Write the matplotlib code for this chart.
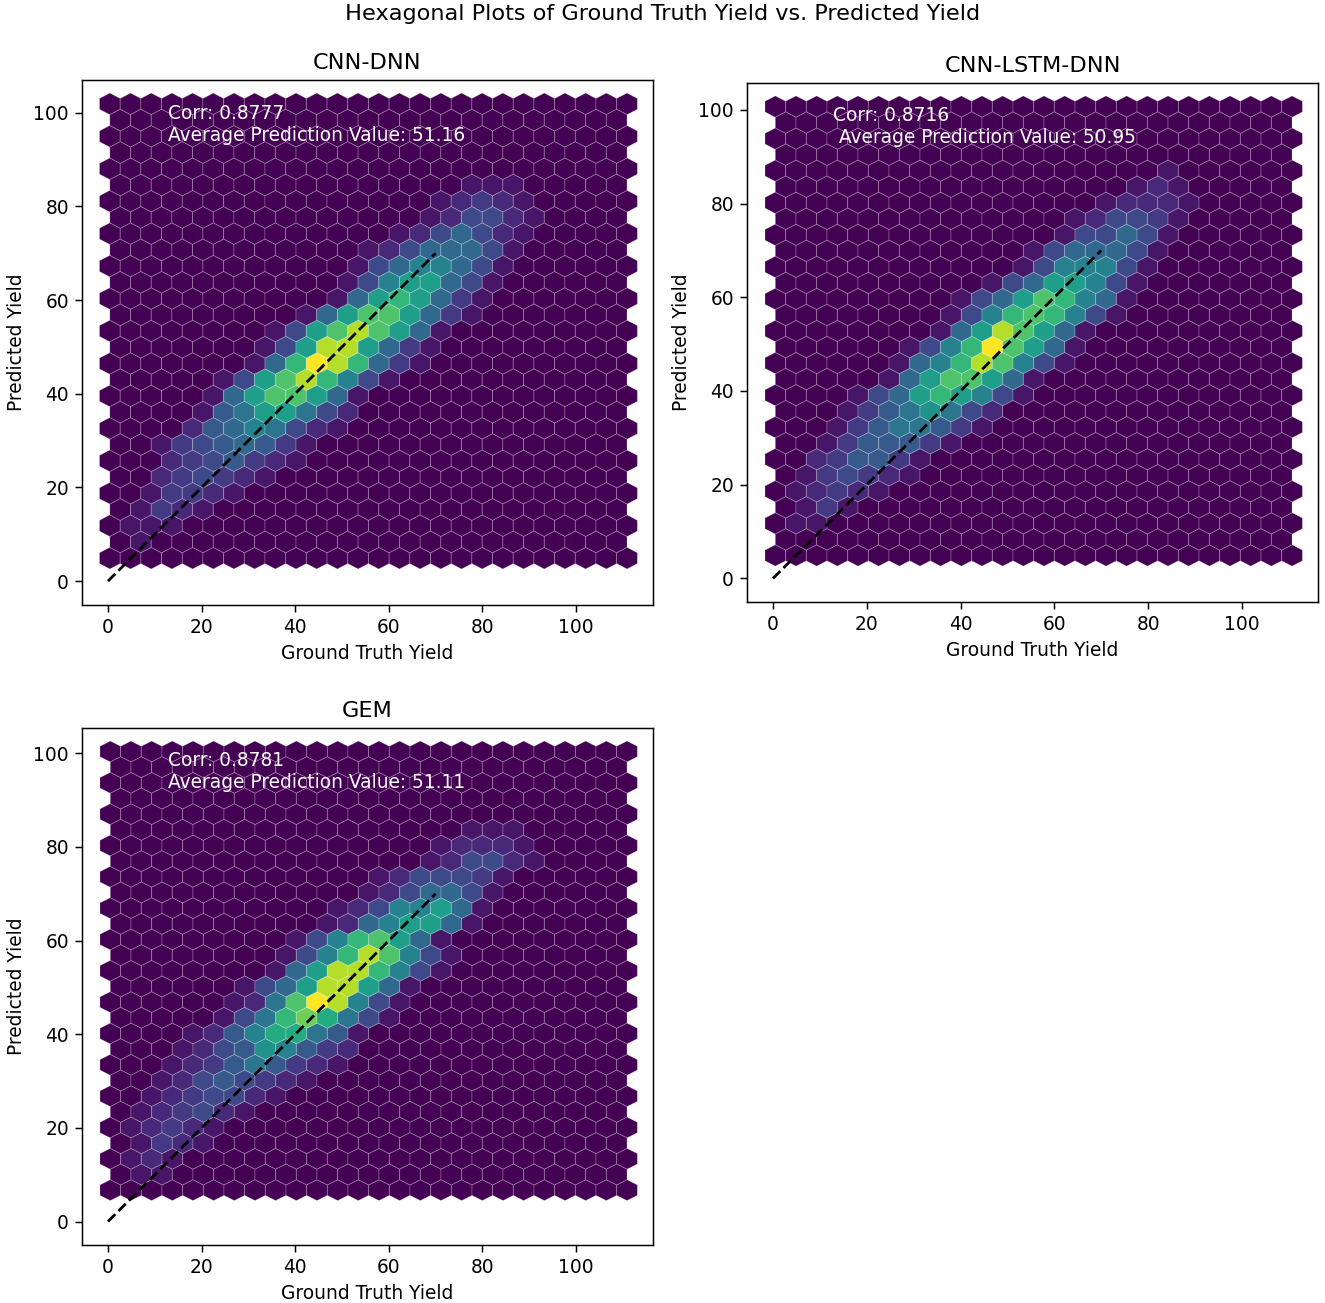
import numpy as np
import matplotlib.pyplot as plt

titles = ["CNN-DNN", "CNN-LSTM-DNN", "GEM"]
corr = [0.8777, 0.8716, 0.8781]
avg_pred = [51.16, 50.95, 51.11]
# data range (ground truth on x, predicted on y) for each model
x_range = [(0.4, 110.9), (0.5, 110.7), (0.5, 110.9)]
y_range = [(4.9, 101.9), (4.9, 100.7), (6.7, 100.4)]
GRID = 25

# points per hexagon (one base-36 digit per hexagon, 0..i = 0..18)
# top row first; even rows have 26 hexagons, odd rows 25 (trailing zeros dropped)
counts_cnn_dnn = [
    "0", "0", "0", "0", "0",
    "00000000000000000111",
    "000000000000000012321",
    "000000000000000124421",
    "000000000000001246421",
    "00000000000012466641",
    "00000000000014688641",
    "00000000000148aa641",
    "0000000000016aca631",
    "00000000016adda631",
    "0000000014adgda61",
    "000000014agga631",
    "000000016cigc631",
    "0000014adgc841",
    "0000016adda61",
    "0000157aa742",
    "000025687421",
    "0013456531",
    "0002345321",
    "00234321",
    "0013321",
    "01321",
    "0111",
    "01",
    "0",
]

counts_cnn_lstm_dnn = [
    "0", "0", "0", "0",
    "00000000000000000001",
    "00000000000000000121",
    "000000000000000012221",
    "00000000000000124431",
    "00000000000000144641",
    "0000000000001466641",
    "0000000000001488841",
    "0000000000146aa841",
    "000000000146adc861",
    "00000000148cdc841",
    "0000000016agda61",
    "000000148cida61",
    "000000168cgd841",
    "0000016adda61",
    "0000146aca841",
    "00013579742",
    "00013577531",
    "001355531",
    "00235531",
    "0134321",
    "012321",
    "0131",
    "011",
    "0",
    "0",
]

counts_gem = [
    "0", "0", "0", "0", "0",
    "00000000000000000111",
    "000000000000000012221",
    "000000000000000124421",
    "00000000000001244431",
    "0000000000001246641",
    "0000000000012488a61",
    "00000000001268aa61",
    "000000000148cda61",
    "00000000148cgd841",
    "0000000016aggc841",
    "000000146agga61",
    "000000127dig841",
    "00000147ceb741",
    "00001258bb751",
    "000124598532",
    "000123575321",
    "0012454321",
    "001234421",
    "0123421",
    "012321",
    "01321",
    "0121",
    "011",
    "0",
]

all_counts = [counts_cnn_dnn, counts_cnn_lstm_dnn, counts_gem]


def hex_points(rows, xr, yr, nx=GRID):
    # put each counted point at the centre of its hexagon
    ny = int(nx / np.sqrt(3))
    sx = (xr[1] - xr[0]) / nx
    sy = (yr[1] - yr[0]) / ny
    xs, ys = [], []
    for r, row in enumerate(rows[::-1]):
        for k, ch in enumerate(row):
            n = int(ch, 36)
            if n:
                xs += [xr[0] + (2 * k + r % 2) * sx / 2] * n
                ys += [yr[0] + r * sy / 2] * n
    return np.array(xs), np.array(ys)


DPI = 134
fig = plt.figure(figsize=(1325 / DPI, 1303 / DPI), dpi=DPI)
positions = [
    [0.0619, 0.5357, 0.4309, 0.4029],
    [0.5638, 0.5380, 0.4309, 0.3983],
    [0.0619, 0.0445, 0.4309, 0.3968],
]

for i in range(3):
    ax = fig.add_axes(positions[i])
    x, y = hex_points(all_counts[i], x_range[i], y_range[i])
    ax.hexbin(x, y, gridsize=GRID, cmap="viridis",
              edgecolors=(1, 1, 1, 0.22), linewidths=0.5,
              extent=(*x_range[i], *y_range[i]))
    ax.plot([0, 70], [0, 70], "k--")
    lead = " " if i == 1 else ""
    ax.text(0.15, 0.955,
            f"Corr: {corr[i]:.4f}\n{lead}Average Prediction Value: {avg_pred[i]:.2f}",
            transform=ax.transAxes, color="white", va="top")
    ax.set_title(titles[i])
    ax.set_xlabel("Ground Truth Yield")
    ax.set_ylabel("Predicted Yield")

fig.suptitle("Hexagonal Plots of Ground Truth Yield vs. Predicted Yield", y=0.997)
fig.savefig("out.png", dpi=DPI)
